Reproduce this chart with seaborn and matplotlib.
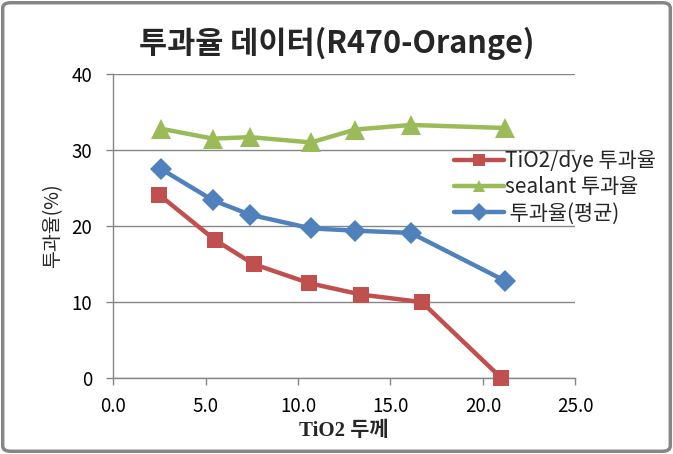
import matplotlib
matplotlib.use("Agg")
import matplotlib.pyplot as plt
import seaborn as sns
import pandas as pd
from matplotlib.patches import FancyBboxPatch
from matplotlib.ticker import FormatStrFormatter

# datos
x_dye = [2.5, 5.5, 7.6, 10.6, 13.4, 16.7, 21.0]
y_dye = [24.1, 18.2, 15.0, 12.5, 11.0, 10.0, 0.0]

x_sealant = [2.6, 5.4, 7.4, 10.7, 13.1, 16.1, 21.2]
y_sealant = [32.8, 31.5, 31.7, 31.0, 32.7, 33.3, 32.9]

x_prom = [2.6, 5.4, 7.4, 10.7, 13.1, 16.1, 21.2]
y_prom = [27.5, 23.4, 21.5, 19.7, 19.4, 19.1, 12.8]

series = [
    ("TiO2/dye 투과율", x_dye, y_dye, "s", "#C0504D", 12),
    ("sealant 투과율", x_sealant, y_sealant, "^", "#9BBB59", 14),
    (" 투과율(평균)", x_prom, y_prom, "D", "#4F81BD", 11),
]

sns.set_style("white")
plt.rcParams['font.family'] = ['Noto Sans CJK KR', 'DejaVu Sans']

fig = plt.figure(figsize=(6.73, 4.54), dpi=100)
ax = fig.add_axes([0.168, 0.167, 0.687, 0.670])

for nombre, xs, ys, marca, color, tam in series:
    df = pd.DataFrame({"x": xs, "y": ys})
    sns.lineplot(data=df, x="x", y="y", ax=ax, sort=False, color=color,
                 linewidth=3.2, marker=marca, markersize=tam,
                 markeredgewidth=0, label=nombre, clip_on=False, zorder=3)

ax.set_xlim(0, 25)
ax.set_ylim(0, 40)
ax.set_xticks([0, 5, 10, 15, 20, 25])
ax.set_yticks([0, 10, 20, 30, 40])
ax.xaxis.set_major_formatter(FormatStrFormatter("%.1f"))

gris = "#868686"
ax.yaxis.grid(True, color=gris, linewidth=1)
ax.set_axisbelow(True)
for lado in ["top", "right"]:
    ax.spines[lado].set_visible(False)
for lado in ["left", "bottom"]:
    ax.spines[lado].set_color(gris)
    ax.spines[lado].set_linewidth(1)
ax.tick_params(axis="both", direction="out", length=5, width=1, color=gris,
               labelsize=13.5, labelcolor="black")
ax.tick_params(axis="x", pad=8, bottom=True)
ax.tick_params(axis="y", pad=10, left=True)

ax.set_xlabel("TiO2 두께", fontsize=15, fontweight="bold",
              family=['Liberation Serif', 'Noto Sans CJK KR'], labelpad=3)
ax.set_ylabel("투과율(%)", fontsize=14, labelpad=6)

fig.suptitle("투과율 데이터(R470-Orange)", fontsize=22, fontweight="bold",
             x=0.5, y=0.94)

leg = ax.legend(loc="upper left", bbox_to_anchor=(0.72, 0.777), frameon=False,
                fontsize=15, handlelength=2.4, handletextpad=0.05,
                labelspacing=0.2, borderaxespad=0)
for h in leg.legend_handles:
    h.set_markersize(9)

# marco gris redondeado
marco = FancyBboxPatch((0.004, 0.006), 0.992, 0.988, transform=fig.transFigure,
                       boxstyle="round,pad=0,rounding_size=0.012",
                       facecolor="none", edgecolor=gris, linewidth=2.5)
fig.patches.append(marco)

plt.savefig("out.png", dpi=100)
plt.close()
